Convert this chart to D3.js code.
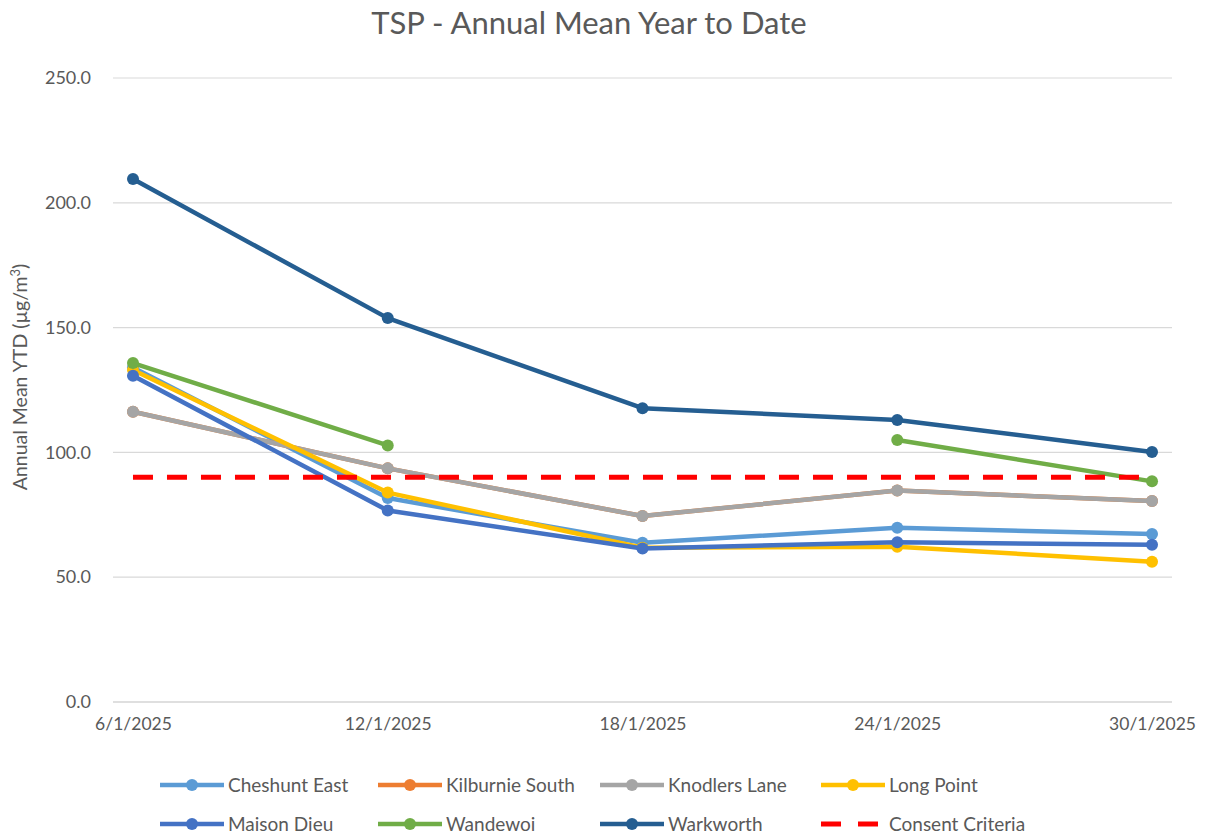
<!DOCTYPE html>
<html><head><meta charset="utf-8">
<script src="https://cdn.jsdelivr.net/npm/d3@7"></script>
<style>body{margin:0;background:#fff;font-family:Lato,"Open Sans",sans-serif;}</style>
</head><body>
<svg id="c" width="1206" height="836"></svg>
<script>
const dates = ["6/1/2025","12/1/2025","18/1/2025","24/1/2025","30/1/2025"];
const yTicks = [0,50,100,150,200,250];
const cheshuntEast   = [134.0, 81.7, 63.8, 69.8, 67.3];
const kilburnieSouth = [116.3, 93.6, 74.5, 84.7, 80.5];
const knodlersLane   = [116.3, 93.6, 74.5, 84.7, 80.5];
const longPoint      = [133.0, 83.9, 61.8, 62.2, 56.2];
const maisonDieu     = [130.7, 76.7, 61.5, 64.0, 63.0];
const wandewoi       = [135.8, 102.8, null, 105.0, 88.4];
const warkworth      = [209.5, 153.8, 117.7, 113.0, 100.2];
const consent        = [90, 90, 90, 90, 90];
const seriesNames = ["Cheshunt East","Kilburnie South","Knodlers Lane","Long Point","Maison Dieu","Wandewoi","Warkworth","Consent Criteria"];
const seriesColors = ["#5B9BD5","#ED7D31","#A5A5A5","#FFC000","#4472C4","#70AD47","#255E91","#FF0000"];
const seriesValues = [cheshuntEast,kilburnieSouth,knodlersLane,longPoint,maisonDieu,wandewoi,warkworth,consent];

const svg = d3.select("#c");
const L = 113, R = 1172, T = 78, B = 702;
const x = d3.scalePoint().domain(dates).range([L,R]).padding(20/255);
const y = d3.scaleLinear().domain([0,250]).range([B,T]);
const txt = "#595959";
const ff = "Lato,'Open Sans',sans-serif";

svg.append("text").attr("x",589).attr("y",34).attr("text-anchor","middle")
  .attr("font-size",31).attr("fill",txt).text("TSP - Annual Mean Year to Date");

// grid
svg.append("g").selectAll("line").data(yTicks).join("line")
  .attr("x1",L).attr("x2",R).attr("y1",d=>y(d)).attr("y2",d=>y(d))
  .attr("stroke",d=>d===0?"#BFBFBF":"#D9D9D9").attr("stroke-width",1.2);

const yAxis = d3.axisLeft(y).tickValues(yTicks).tickFormat(d3.format(".1f")).tickSize(0).tickPadding(22);
const gy = svg.append("g").attr("transform",`translate(${L},0)`).call(yAxis);
gy.select(".domain").remove();
gy.selectAll("text").attr("font-size",18).attr("fill",txt).attr("font-family",ff);

const xAxis = d3.axisBottom(x).tickSize(0).tickPadding(16);
const gx = svg.append("g").attr("transform",`translate(0,${B})`).call(xAxis);
gx.select(".domain").remove();
gx.selectAll("text").attr("font-size",17.5).attr("fill",txt).attr("font-family",ff);

const yt = svg.append("text").attr("transform","translate(27,377) rotate(-90)")
  .attr("text-anchor","middle").attr("font-size",19.5).attr("fill",txt);
yt.append("tspan").text("Annual Mean YTD (µg/m");
yt.append("tspan").attr("font-size",13).attr("dy",-7).text("3");
yt.append("tspan").attr("dy",7).text(")");

const line = d3.line().defined(d=>d.v!=null).x(d=>x(d.d)).y(d=>y(d.v));
seriesValues.forEach((vals,i)=>{
  const pts = vals.map((v,j)=>({d:dates[j],v}));
  const g = svg.append("g");
  const dashed = i===7;
  g.append("path").datum(pts).attr("d",line).attr("fill","none")
    .attr("stroke",seriesColors[i]).attr("stroke-width",dashed?5:4.5)
    .attr("stroke-linejoin","round")
    .attr("stroke-dasharray",dashed?"20,14":null);
  if(!dashed){
    g.selectAll("circle").data(pts.filter(p=>p.v!=null)).join("circle")
      .attr("cx",p=>x(p.d)).attr("cy",p=>y(p.v)).attr("r",6).attr("fill",seriesColors[i]);
  }
});

// legend
const colX = [160,378,600,821];
const rowY = [785,824];
seriesNames.forEach((n,i)=>{
  const lx = colX[i%4], ly = rowY[Math.floor(i/4)];
  const g = svg.append("g");
  if(i===7){
    g.append("line").attr("x1",lx).attr("x2",lx+60).attr("y1",ly).attr("y2",ly)
      .attr("stroke",seriesColors[i]).attr("stroke-width",5).attr("stroke-dasharray","20,17");
  } else {
    g.append("line").attr("x1",lx).attr("x2",lx+64).attr("y1",ly).attr("y2",ly)
      .attr("stroke",seriesColors[i]).attr("stroke-width",4.5);
    g.append("circle").attr("cx",lx+32).attr("cy",ly).attr("r",6).attr("fill",seriesColors[i]);
  }
  g.append("text").attr("x",lx+68).attr("y",ly+7).attr("font-size",19).attr("fill",txt).text(n);
});
</script>
</body></html>
